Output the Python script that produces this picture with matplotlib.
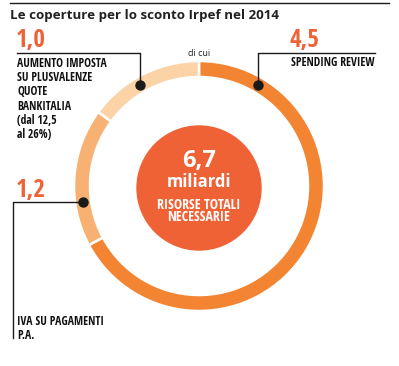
import numpy as np
import matplotlib
matplotlib.use('Agg')
import matplotlib.pyplot as plt
from matplotlib.patches import Circle

W, H = 399, 366

# data
labels = ['SPENDING REVIEW', 'IVA SU PAGAMENTI\nP.A.',
          'AUMENTO IMPOSTA\nSU PLUSVALENZE\nQUOTE\nBANKITALIA\n(dal 12,5\nal 26%)']
values = [4.5, 1.2, 1.0]
value_txt = ['4,5', '1,2', '1,0']
total_txt = '6,7'
colors = ['#F28432', '#F7B273', '#FBD3A6']

CENTER = '#EF6236'
NARROW = ['Open Sans Condensed', 'DejaVu Sans']
TITLE_FONT = ['Open Sans', 'DejaVu Sans']

cx, cy = 199, H - 186
R, RW = 125, 16

fig = plt.figure(figsize=(W / 100, H / 100), dpi=100)
ax = fig.add_axes([0, 0, 1, 1])

ax.pie(values, colors=colors, center=(cx, cy), radius=R, startangle=90,
       counterclock=False, wedgeprops=dict(width=RW, edgecolor='white', linewidth=1.8))
ax.set_xlim(0, W)
ax.set_ylim(0, H)
ax.set_aspect('equal')
ax.axis('off')

ax.add_patch(Circle((cx, H - 188), 62, color=CENTER, zorder=3))
ax.text(cx, H - 161, total_txt, color='white', fontsize=17, fontweight='bold',
        ha='center', va='center', family=TITLE_FONT, zorder=4)
ax.text(cx, H - 182, 'miliardi', color='white', fontsize=12, fontweight='bold',
        ha='center', va='center', family=TITLE_FONT, zorder=4)
ax.text(cx, H - 211, 'RISORSE TOTALI\nNECESSARIE', color='white', fontsize=10,
        fontweight='bold', ha='center', va='center', family=NARROW,
        linespacing=0.9, zorder=4)

# top rule + title
ax.plot([10, 389], [H - 3, H - 3], color='#1a1a1a', lw=1.0)
ax.text(10, H - 15, 'Le coperture per lo sconto Irpef nel 2014', fontsize=9.6,
        fontweight='bold', ha='left', va='center', family=TITLE_FONT, color='#222222')
ax.text(cx, H - 53, 'di cui', fontsize=6.5, ha='center', va='center',
        family=TITLE_FONT, color='#222222')

# leader dots: angle clockwise from top
dot_ang = [30, 262, 330]
rm = R - RW / 2
dots = [(cx + rm * np.sin(np.radians(a)), cy + rm * np.cos(np.radians(a))) for a in dot_ang]
lc = '#1a1a1a'

# spending review
dx, dy = dots[0]
ax.plot([dx, dx, 375], [dy, H - 53, H - 53], color=lc, lw=1.0, zorder=5)
ax.text(289, H - 40, value_txt[0], color=CENTER, fontsize=18, fontweight='bold',
        family=NARROW, ha='left', va='center')
ax.text(291, H - 63, labels[0], fontsize=8.4, fontweight='bold', family=NARROW,
        ha='left', va='center', color='#111111')

# iva
dx, dy = dots[1]
ax.plot([dx, 13, 13], [dy, dy, H - 338], color=lc, lw=1.0, zorder=5)
ax.text(16, H - 190, value_txt[1], color=CENTER, fontsize=18, fontweight='bold',
        family=NARROW, ha='left', va='center')
ax.text(17, H - 315, labels[1], fontsize=8.4, fontweight='bold', family=NARROW,
        ha='left', va='top', color='#111111', linespacing=1.12)

# bankitalia
dx, dy = dots[2]
ax.plot([dx, dx, 17], [dy, H - 53, H - 53], color=lc, lw=1.0, zorder=5)
ax.text(16, H - 40, value_txt[2], color=CENTER, fontsize=18, fontweight='bold',
        family=NARROW, ha='left', va='center')
ax.text(17, H - 57, labels[2], fontsize=8.4, fontweight='bold', family=NARROW,
        ha='left', va='top', color='#111111', linespacing=1.12)

ax.scatter([d[0] for d in dots], [d[1] for d in dots], s=42, color=lc, zorder=6)

fig.savefig('out.png', dpi=100)
